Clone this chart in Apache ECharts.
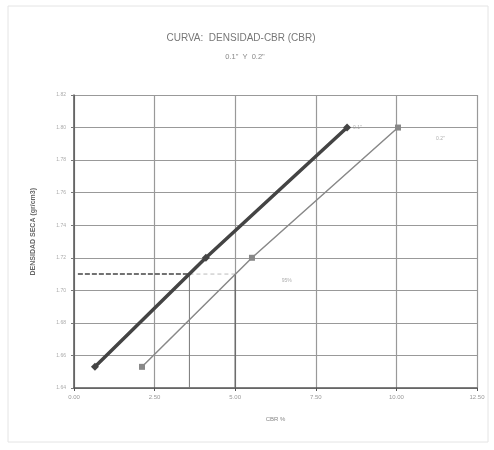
<!DOCTYPE html>
<html>
<head>
<meta charset="utf-8">
<script src="https://cdn.jsdelivr.net/npm/echarts@6/dist/echarts.min.js"></script>
<style>html,body{margin:0;padding:0;background:#fff}#c{width:494px;height:450px}</style>
</head>
<body>
<div id="c"></div>
<script>
// Data
const cbr01 = [0.65, 4.09, 8.47];      // CBR at 0.1"
const dens01 = [1.653, 1.72, 1.80];
const cbr02 = [2.11, 5.52, 10.05];     // CBR at 0.2"
const dens02 = [1.653, 1.72, 1.80];
const densMax = 1.80;                  // 100% MDS
const dens95 = 1.71;                   // 95% MDS
const cbr95_01 = 3.58;
const cbr95_02 = 5.0;
const yMin = 1.64, yMax = 1.82, yStep = 0.02;
const xMin = 0, xMax = 12.5, xStep = 2.5;
const titleText = 'CURVA:  DENSIDAD-CBR (CBR)';
const subtitleText = '0.1"  Y  0.2"';
const yTitle = 'DENSIDAD SECA (gr/cm3)';
const xTitle = 'CBR %';
const label01 = '0.1"';
const label02 = '0.2"';
const label95 = '95%';

const chart = echarts.init(document.getElementById('c'));
const pairs = (xs, ys) => xs.map((x, i) => [x, ys[i]]);
chart.setOption({
  backgroundColor: '#fff',
  animation: false,
  title: [
    {text: titleText, left: 236, top: 28, textAlign: 'center',
     textStyle: {fontSize: 10, fontWeight: 'normal', color: '#777', fontFamily: 'Liberation Sans'}},
    {text: subtitleText, left: 240, top: 48, textAlign: 'center',
     textStyle: {fontSize: 7.5, fontWeight: 'normal', color: '#888', fontFamily: 'Liberation Sans'}}
  ],
  graphic: [
    {type: 'rect', shape: {x: 8, y: 6, width: 480, height: 436},
     style: {fill: 'none', stroke: '#e4e4e4', lineWidth: 1}},
    {type: 'text', left: 30, top: 188, rotation: Math.PI / 2,
     style: {text: yTitle, fontSize: 7, fontWeight: 'bold', fill: '#666', fontFamily: 'Liberation Sans'}}
  ],
  grid: {left: 74, right: 17, top: 95, bottom: 62},
  xAxis: {
    type: 'value', min: xMin, max: xMax, interval: xStep,
    name: xTitle, nameLocation: 'middle', nameGap: 28,
    nameTextStyle: {fontSize: 6, color: '#888'},
    axisLine: {lineStyle: {color: '#555', width: 1.5}},
    axisTick: {show: true, length: 3, lineStyle: {color: '#555'}},
    axisLabel: {fontSize: 6, color: '#999', margin: 6, formatter: v => v.toFixed(2)},
    splitLine: {show: true, lineStyle: {color: '#999', width: 1.2}}
  },
  yAxis: {
    type: 'value', min: yMin, max: yMax, interval: yStep,
    axisLine: {show: true, lineStyle: {color: '#555', width: 1.5}},
    axisTick: {show: true, length: 3, lineStyle: {color: '#777'}},
    axisLabel: {fontSize: 5, color: '#aaa', margin: 8, formatter: v => v.toFixed(2)},
    splitLine: {show: true, lineStyle: {color: '#999', width: 1.2}}
  },
  series: [
    {type: 'line', data: pairs(cbr02, dens02), symbol: 'rect', symbolSize: 6,
     lineStyle: {color: '#888', width: 1.5}, itemStyle: {color: '#888'}, z: 3},
    {type: 'line', data: pairs(cbr01, dens01), symbol: 'diamond', symbolSize: 8,
     lineStyle: {color: '#444', width: 3.5}, itemStyle: {color: '#444'}, z: 4},
    {type: 'line', data: [[0.12, dens95], [cbr95_01, dens95]], symbol: 'none',
     lineStyle: {color: '#444', width: 1.5, type: [5, 2]}, z: 2},
    {type: 'line', data: [[cbr95_01, dens95], [cbr95_02, dens95]], symbol: 'none',
     lineStyle: {color: '#bbb', width: 1, type: [4, 3]}, z: 2},
    {type: 'line', data: [[cbr95_01, dens95], [cbr95_01, yMin]], symbol: 'none',
     lineStyle: {color: '#777', width: 1}, z: 2},
    {type: 'line', data: [[cbr95_02, dens95], [cbr95_02, yMin]], symbol: 'none',
     lineStyle: {color: '#666', width: 1.3}, z: 2},
    {type: 'scatter', symbolSize: 0, z: 5,
     data: [
       {value: [cbr01[2], densMax], label: {show: true, formatter: label01, position: 'right', distance: 6, fontSize: 5, color: '#999'}},
       {value: [cbr02[2], densMax - 0.007], label: {show: true, formatter: label02, position: 'right', distance: 38, fontSize: 5, color: '#999'}},
       {value: [cbr95_02 + 1.6, dens95 - 0.004], label: {show: true, formatter: label95, position: 'inside', fontSize: 5, color: '#999'}}
     ]}
  ]
});
</script>
</body>
</html>
